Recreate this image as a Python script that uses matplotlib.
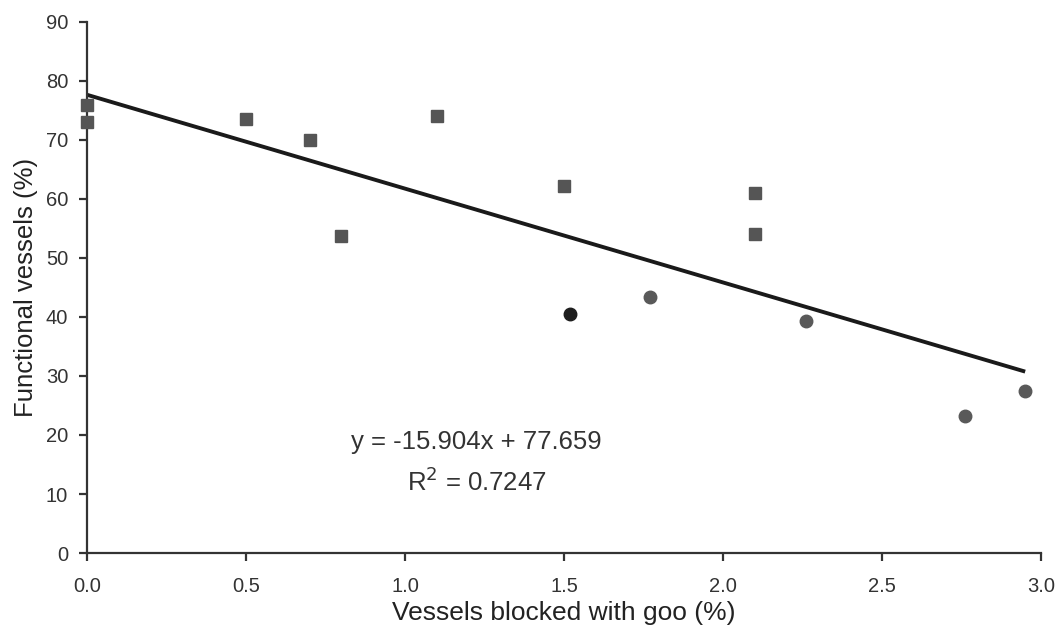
import matplotlib
matplotlib.use("Agg")
import matplotlib.pyplot as plt
import numpy as np

plt.rcParams['font.family'] = ['Liberation Sans', 'DejaVu Sans']

# Data
sq_x = [0.0, 0.0, 0.5, 0.7, 0.8, 1.1, 1.5, 2.1, 2.1]
sq_y = [76.0, 73.0, 73.5, 70.0, 53.7, 74.0, 62.2, 61.0, 54.0]
circ_x = [1.77, 2.26, 2.76, 2.95]
circ_y = [43.4, 39.4, 23.3, 27.5]
dark_x = [1.52]
dark_y = [40.5]
slope, intercept = -15.904, 77.659
fit_x = [0.0, 2.95]
x_ticks = [0.0, 0.5, 1.0, 1.5, 2.0, 2.5, 3.0]
y_ticks = [0, 10, 20, 30, 40, 50, 60, 70, 80, 90]

fig = plt.figure(figsize=(10.58, 6.27), dpi=100)
ax = fig.add_axes([0.0822, 0.118, 0.9018, 0.847])

fit_y = [slope * x + intercept for x in fit_x]
ax.plot(fit_x, fit_y, color='#1a1a1a', lw=2.8, zorder=2, solid_capstyle='butt')
ax.plot(sq_x, sq_y, 's', color='#555555', ms=8.5, mec='#555555', clip_on=False, zorder=3)
ax.plot(circ_x, circ_y, 'o', color='#595959', ms=9, mec='#595959', clip_on=False, zorder=3)
ax.plot(dark_x, dark_y, 'o', color='#1e1e1e', ms=9, mec='#1e1e1e', clip_on=False, zorder=3)

ax.set_xlim(0, 3.0)
ax.set_ylim(0, 90)
ax.set_xticks(x_ticks)
ax.set_xticklabels([f"{v:.1f}" for v in x_ticks])
ax.set_yticks(y_ticks)

for s in ['top', 'right']:
    ax.spines[s].set_visible(False)
for s in ['left', 'bottom']:
    ax.spines[s].set_color('#333333')
    ax.spines[s].set_linewidth(1.6)
ax.tick_params(direction='out', length=6, width=1.6, color='#333333',
               labelsize=14.5, labelcolor='#333333')
ax.tick_params(axis='x', pad=11)
ax.tick_params(axis='y', pad=7.5)

ax.set_xlabel('Vessels blocked with goo (%)', fontsize=19, color='#222222', labelpad=4)
ax.set_ylabel('Functional vessels (%)', fontsize=18.5, color='#222222', labelpad=6)

ax.text(1.225, 18.8, 'y = -15.904x + 77.659', ha='center', va='center', fontsize=18.5, color='#333333')
ax.text(1.225, 12.0, r'R$^{2}$ = 0.7247', ha='center', va='center', fontsize=18.5, color='#333333')

fig.savefig('out.png', dpi=100)
